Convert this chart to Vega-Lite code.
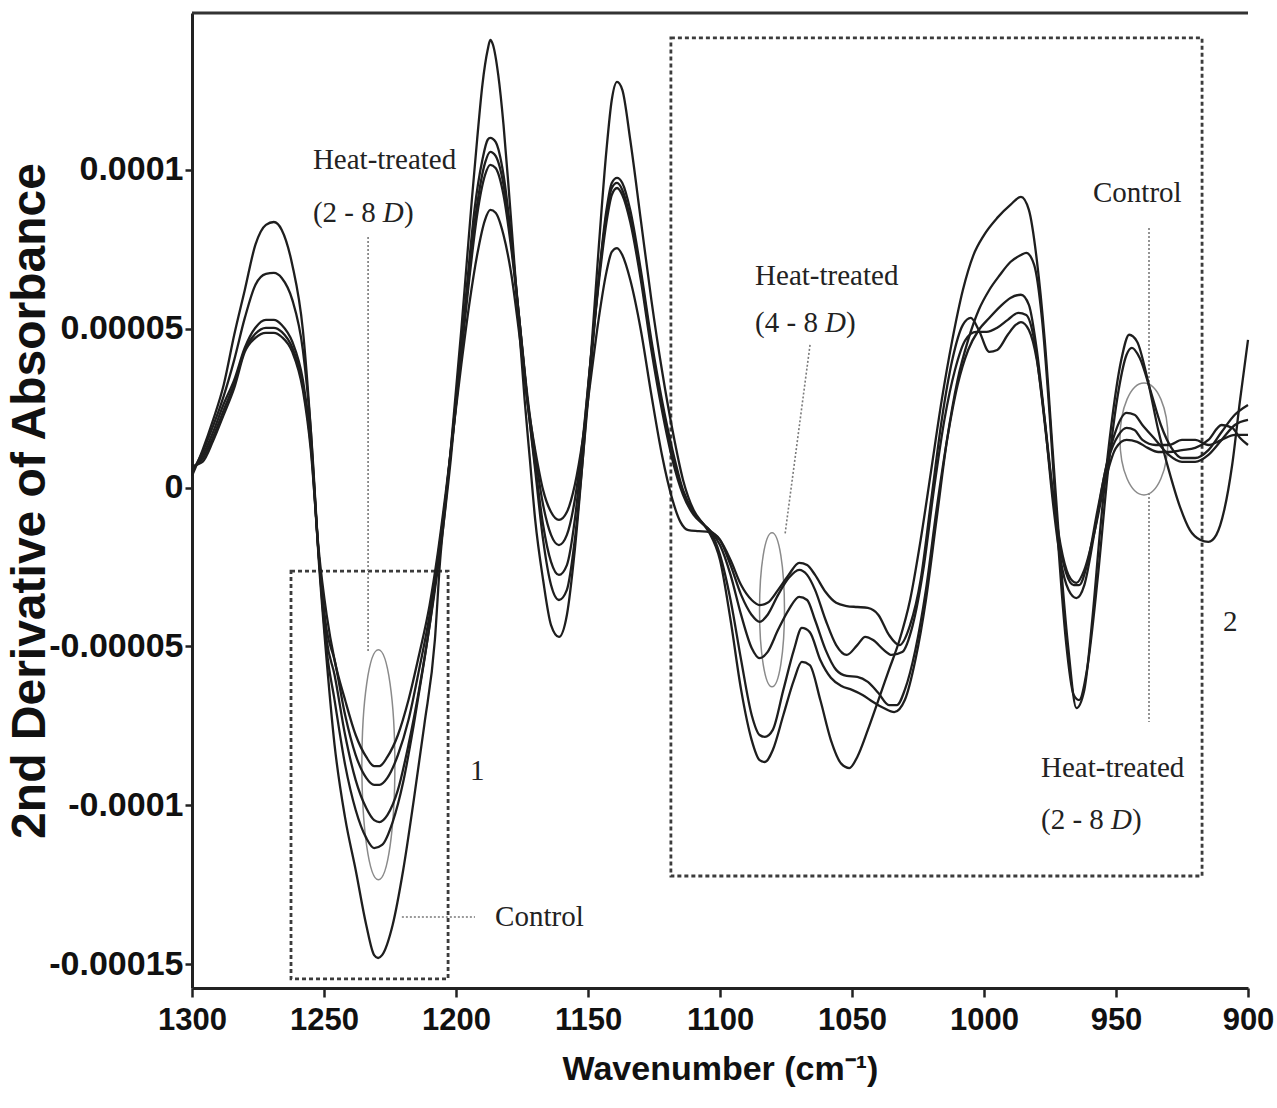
{
"$schema": "https://vega.github.io/schema/vega-lite/v6.json",
"width": 1056,
"height": 975,
"autosize": {"type": "none"},
"padding": {"left": 192, "top": 13, "right": 29, "bottom": 120},
"background": "white",
"config": {"view": {"stroke": null}, "axis": {"grid": false}},
"datasets": {
"spec": [
{"s":"A","w":1300,"v":0.37e-5},{"s":"A","w":1296,"v":1.18e-5},{"s":"A","w":1292,"v":2.13e-5},{"s":"A","w":1288,"v":3.23e-5},{"s":"A","w":1284,"v":4.81e-5},{"s":"A","w":1280,"v":6.22e-5},{"s":"A","w":1276,"v":7.64e-5},{"s":"A","w":1272,"v":8.27e-5},{"s":"A","w":1269,"v":8.36e-5},{"s":"A","w":1266,"v":8.11e-5},{"s":"A","w":1262,"v":7.01e-5},{"s":"A","w":1258,"v":4.96e-5},{"s":"A","w":1255,"v":1.81e-5},{"s":"A","w":1252,"v":-2.28e-5},{"s":"A","w":1249,"v":-5.43e-5},{"s":"A","w":1246,"v":-8.10e-5},{"s":"A","w":1242,"v":-10.40e-5},{"s":"A","w":1238,"v":-12.04e-5},{"s":"A","w":1234,"v":-13.77e-5},{"s":"A","w":1231,"v":-14.72e-5},{"s":"A","w":1229.5,"v":-14.81e-5},{"s":"A","w":1228,"v":-14.72e-5},{"s":"A","w":1224,"v":-13.77e-5},{"s":"A","w":1220,"v":-12.04e-5},{"s":"A","w":1216,"v":-9.84e-5},{"s":"A","w":1212,"v":-7.47e-5},{"s":"A","w":1208,"v":-4.80e-5},{"s":"A","w":1206,"v":-2.28e-5},{"s":"A","w":1204,"v":-0.55e-5},{"s":"A","w":1202,"v":1.18e-5},{"s":"A","w":1200,"v":3.07e-5},{"s":"A","w":1198,"v":4.96e-5},{"s":"A","w":1196,"v":7.01e-5},{"s":"A","w":1194,"v":9.06e-5},{"s":"A","w":1192,"v":10.95e-5},{"s":"A","w":1190,"v":12.68e-5},{"s":"A","w":1188,"v":13.78e-5},{"s":"A","w":1187,"v":14.09e-5},{"s":"A","w":1186,"v":13.94e-5},{"s":"A","w":1184,"v":12.99e-5},{"s":"A","w":1182,"v":11.42e-5},{"s":"A","w":1180,"v":9.37e-5},{"s":"A","w":1178,"v":7.17e-5},{"s":"A","w":1176,"v":4.96e-5},{"s":"A","w":1174,"v":2.76e-5},{"s":"A","w":1172,"v":0.87e-5},{"s":"A","w":1170,"v":-1.02e-5},{"s":"A","w":1167,"v":-2.91e-5},{"s":"A","w":1164,"v":-4.33e-5},{"s":"A","w":1161,"v":-4.70e-5},{"s":"A","w":1158,"v":-4.01e-5},{"s":"A","w":1155,"v":-1.96e-5},{"s":"A","w":1152,"v":0.87e-5},{"s":"A","w":1149,"v":4.02e-5},{"s":"A","w":1146,"v":7.48e-5},{"s":"A","w":1143,"v":10.63e-5},{"s":"A","w":1141,"v":12.20e-5},{"s":"A","w":1139,"v":12.77e-5},{"s":"A","w":1137,"v":12.52e-5},{"s":"A","w":1134,"v":10.95e-5},{"s":"A","w":1130,"v":8.43e-5},{"s":"A","w":1126,"v":5.91e-5},{"s":"A","w":1122,"v":3.70e-5},{"s":"A","w":1118,"v":1.81e-5},{"s":"A","w":1114,"v":0.24e-5},{"s":"A","w":1110,"v":-0.71e-5},{"s":"A","w":1106,"v":-1.18e-5},{"s":"A","w":1104,"v":-1.43e-5},{"s":"A","w":1100,"v":-2.28e-5},{"s":"A","w":1096,"v":-4.17e-5},{"s":"A","w":1092,"v":-6.37e-5},{"s":"A","w":1088,"v":-7.95e-5},{"s":"A","w":1085,"v":-8.58e-5},{"s":"A","w":1083,"v":-8.64e-5},{"s":"A","w":1080,"v":-8.26e-5},{"s":"A","w":1076,"v":-7.16e-5},{"s":"A","w":1072,"v":-6.06e-5},{"s":"A","w":1069,"v":-5.49e-5},{"s":"A","w":1066,"v":-5.59e-5},{"s":"A","w":1062,"v":-6.69e-5},{"s":"A","w":1058,"v":-7.95e-5},{"s":"A","w":1054,"v":-8.70e-5},{"s":"A","w":1051,"v":-8.83e-5},{"s":"A","w":1048,"v":-8.48e-5},{"s":"A","w":1044,"v":-7.63e-5},{"s":"A","w":1040,"v":-6.69e-5},{"s":"A","w":1036,"v":-5.74e-5},{"s":"A","w":1032,"v":-4.80e-5},{"s":"A","w":1028,"v":-3.54e-5},{"s":"A","w":1024,"v":-1.65e-5},{"s":"A","w":1020,"v":0.55e-5},{"s":"A","w":1016,"v":2.76e-5},{"s":"A","w":1012,"v":4.65e-5},{"s":"A","w":1008,"v":6.22e-5},{"s":"A","w":1004,"v":7.32e-5},{"s":"A","w":1000,"v":7.95e-5},{"s":"A","w":995,"v":8.49e-5},{"s":"A","w":990,"v":8.90e-5},{"s":"A","w":986,"v":9.15e-5},{"s":"A","w":983,"v":8.74e-5},{"s":"A","w":980,"v":7.17e-5},{"s":"A","w":977,"v":4.65e-5},{"s":"A","w":974,"v":1.18e-5},{"s":"A","w":971,"v":-2.28e-5},{"s":"A","w":968,"v":-5.11e-5},{"s":"A","w":965,"v":-6.94e-5},{"s":"A","w":962,"v":-6.37e-5},{"s":"A","w":959,"v":-4.17e-5},{"s":"A","w":956,"v":-1.34e-5},{"s":"A","w":952,"v":1.81e-5},{"s":"A","w":948,"v":4.02e-5},{"s":"A","w":945,"v":4.81e-5},{"s":"A","w":942,"v":4.59e-5},{"s":"A","w":938,"v":3.39e-5},{"s":"A","w":934,"v":1.81e-5},{"s":"A","w":930,"v":0.55e-5},{"s":"A","w":926,"v":-0.55e-5},{"s":"A","w":922,"v":-1.34e-5},{"s":"A","w":918,"v":-1.65e-5},{"s":"A","w":915,"v":-1.71e-5},{"s":"A","w":912,"v":-1.49e-5},{"s":"A","w":909,"v":-0.71e-5},{"s":"A","w":906,"v":0.71e-5},{"s":"A","w":903,"v":2.76e-5},{"s":"A","w":900,"v":4.65e-5},
{"s":"B","w":1300,"v":0.49e-5},{"s":"B","w":1296,"v":1.12e-5},{"s":"B","w":1292,"v":1.94e-5},{"s":"B","w":1288,"v":2.88e-5},{"s":"B","w":1284,"v":4.02e-5},{"s":"B","w":1280,"v":5.34e-5},{"s":"B","w":1276,"v":6.38e-5},{"s":"B","w":1272,"v":6.73e-5},{"s":"B","w":1269,"v":6.76e-5},{"s":"B","w":1266,"v":6.60e-5},{"s":"B","w":1262,"v":5.91e-5},{"s":"B","w":1258,"v":4.33e-5},{"s":"B","w":1255,"v":1.81e-5},{"s":"B","w":1252,"v":-2.12e-5},{"s":"B","w":1249,"v":-5.11e-5},{"s":"B","w":1246,"v":-6.69e-5},{"s":"B","w":1242,"v":-8.73e-5},{"s":"B","w":1238,"v":-10.15e-5},{"s":"B","w":1234,"v":-11.03e-5},{"s":"B","w":1231,"v":-11.35e-5},{"s":"B","w":1228,"v":-11.25e-5},{"s":"B","w":1224,"v":-10.53e-5},{"s":"B","w":1220,"v":-9.27e-5},{"s":"B","w":1216,"v":-7.47e-5},{"s":"B","w":1212,"v":-5.43e-5},{"s":"B","w":1208,"v":-3.22e-5},{"s":"B","w":1205,"v":-1.34e-5},{"s":"B","w":1202,"v":0.87e-5},{"s":"B","w":1199,"v":3.55e-5},{"s":"B","w":1196,"v":6.22e-5},{"s":"B","w":1193,"v":8.74e-5},{"s":"B","w":1190,"v":10.32e-5},{"s":"B","w":1188,"v":10.95e-5},{"s":"B","w":1187,"v":11.01e-5},{"s":"B","w":1185,"v":10.88e-5},{"s":"B","w":1182,"v":9.84e-5},{"s":"B","w":1179,"v":7.80e-5},{"s":"B","w":1176,"v":5.28e-5},{"s":"B","w":1173,"v":2.76e-5},{"s":"B","w":1170,"v":0.55e-5},{"s":"B","w":1167,"v":-1.65e-5},{"s":"B","w":1164,"v":-3.07e-5},{"s":"B","w":1161,"v":-3.54e-5},{"s":"B","w":1158,"v":-3.22e-5},{"s":"B","w":1155,"v":-1.65e-5},{"s":"B","w":1152,"v":0.87e-5},{"s":"B","w":1149,"v":3.70e-5},{"s":"B","w":1146,"v":6.54e-5},{"s":"B","w":1143,"v":8.74e-5},{"s":"B","w":1141,"v":9.59e-5},{"s":"B","w":1139,"v":9.75e-5},{"s":"B","w":1137,"v":9.59e-5},{"s":"B","w":1134,"v":8.74e-5},{"s":"B","w":1130,"v":6.85e-5},{"s":"B","w":1126,"v":4.65e-5},{"s":"B","w":1122,"v":2.76e-5},{"s":"B","w":1118,"v":1.18e-5},{"s":"B","w":1114,"v":-0.08e-5},{"s":"B","w":1110,"v":-0.77e-5},{"s":"B","w":1106,"v":-1.18e-5},{"s":"B","w":1104,"v":-1.34e-5},{"s":"B","w":1100,"v":-2.12e-5},{"s":"B","w":1096,"v":-3.54e-5},{"s":"B","w":1092,"v":-5.43e-5},{"s":"B","w":1088,"v":-7.16e-5},{"s":"B","w":1085,"v":-7.79e-5},{"s":"B","w":1083,"v":-7.85e-5},{"s":"B","w":1080,"v":-7.63e-5},{"s":"B","w":1076,"v":-6.37e-5},{"s":"B","w":1072,"v":-5.11e-5},{"s":"B","w":1069,"v":-4.42e-5},{"s":"B","w":1066,"v":-4.55e-5},{"s":"B","w":1062,"v":-5.43e-5},{"s":"B","w":1058,"v":-5.99e-5},{"s":"B","w":1054,"v":-6.25e-5},{"s":"B","w":1050,"v":-6.37e-5},{"s":"B","w":1046,"v":-6.53e-5},{"s":"B","w":1042,"v":-6.75e-5},{"s":"B","w":1038,"v":-6.94e-5},{"s":"B","w":1034,"v":-7.07e-5},{"s":"B","w":1030,"v":-6.69e-5},{"s":"B","w":1026,"v":-5.43e-5},{"s":"B","w":1022,"v":-3.54e-5},{"s":"B","w":1018,"v":-1.02e-5},{"s":"B","w":1014,"v":1.50e-5},{"s":"B","w":1010,"v":3.39e-5},{"s":"B","w":1006,"v":4.65e-5},{"s":"B","w":1002,"v":5.59e-5},{"s":"B","w":998,"v":6.22e-5},{"s":"B","w":994,"v":6.69e-5},{"s":"B","w":990,"v":7.10e-5},{"s":"B","w":986,"v":7.32e-5},{"s":"B","w":984,"v":7.39e-5},{"s":"B","w":981,"v":7.01e-5},{"s":"B","w":978,"v":5.28e-5},{"s":"B","w":975,"v":2.13e-5},{"s":"B","w":972,"v":-1.65e-5},{"s":"B","w":969,"v":-4.80e-5},{"s":"B","w":966,"v":-6.53e-5},{"s":"B","w":964,"v":-6.69e-5},{"s":"B","w":961,"v":-5.74e-5},{"s":"B","w":957,"v":-2.91e-5},{"s":"B","w":953,"v":0.55e-5},{"s":"B","w":949,"v":3.07e-5},{"s":"B","w":946,"v":4.18e-5},{"s":"B","w":944,"v":4.40e-5},{"s":"B","w":941,"v":4.08e-5},{"s":"B","w":937,"v":3.07e-5},{"s":"B","w":933,"v":1.97e-5},{"s":"B","w":929,"v":1.25e-5},{"s":"B","w":925,"v":0.93e-5},{"s":"B","w":920,"v":0.93e-5},{"s":"B","w":915,"v":1.18e-5},{"s":"B","w":910,"v":1.75e-5},{"s":"B","w":905,"v":2.29e-5},{"s":"B","w":900,"v":2.60e-5},
{"s":"C","w":1300,"v":0.55e-5},{"s":"C","w":1296,"v":1.00e-5},{"s":"C","w":1292,"v":1.75e-5},{"s":"C","w":1288,"v":2.63e-5},{"s":"C","w":1284,"v":3.39e-5},{"s":"C","w":1280,"v":4.40e-5},{"s":"C","w":1276,"v":5.03e-5},{"s":"C","w":1272,"v":5.28e-5},{"s":"C","w":1269,"v":5.28e-5},{"s":"C","w":1266,"v":5.12e-5},{"s":"C","w":1262,"v":4.59e-5},{"s":"C","w":1258,"v":3.39e-5},{"s":"C","w":1255,"v":1.50e-5},{"s":"C","w":1252,"v":-2.12e-5},{"s":"C","w":1249,"v":-4.80e-5},{"s":"C","w":1246,"v":-5.90e-5},{"s":"C","w":1242,"v":-7.79e-5},{"s":"C","w":1238,"v":-9.21e-5},{"s":"C","w":1234,"v":-10.09e-5},{"s":"C","w":1231,"v":-10.47e-5},{"s":"C","w":1229,"v":-10.53e-5},{"s":"C","w":1226,"v":-10.31e-5},{"s":"C","w":1222,"v":-9.52e-5},{"s":"C","w":1218,"v":-8.10e-5},{"s":"C","w":1214,"v":-6.37e-5},{"s":"C","w":1210,"v":-4.33e-5},{"s":"C","w":1207,"v":-2.44e-5},{"s":"C","w":1204,"v":-0.39e-5},{"s":"C","w":1201,"v":1.97e-5},{"s":"C","w":1198,"v":4.33e-5},{"s":"C","w":1195,"v":6.85e-5},{"s":"C","w":1192,"v":8.90e-5},{"s":"C","w":1189,"v":10.22e-5},{"s":"C","w":1187,"v":10.57e-5},{"s":"C","w":1185,"v":10.44e-5},{"s":"C","w":1182,"v":9.53e-5},{"s":"C","w":1179,"v":7.64e-5},{"s":"C","w":1176,"v":5.28e-5},{"s":"C","w":1173,"v":2.76e-5},{"s":"C","w":1170,"v":0.71e-5},{"s":"C","w":1167,"v":-1.18e-5},{"s":"C","w":1164,"v":-2.34e-5},{"s":"C","w":1161,"v":-2.75e-5},{"s":"C","w":1158,"v":-2.44e-5},{"s":"C","w":1155,"v":-1.02e-5},{"s":"C","w":1152,"v":1.34e-5},{"s":"C","w":1149,"v":4.02e-5},{"s":"C","w":1146,"v":6.54e-5},{"s":"C","w":1143,"v":8.58e-5},{"s":"C","w":1141,"v":9.43e-5},{"s":"C","w":1139,"v":9.59e-5},{"s":"C","w":1137,"v":9.37e-5},{"s":"C","w":1134,"v":8.49e-5},{"s":"C","w":1130,"v":6.69e-5},{"s":"C","w":1126,"v":4.49e-5},{"s":"C","w":1122,"v":2.60e-5},{"s":"C","w":1118,"v":1.03e-5},{"s":"C","w":1114,"v":-0.14e-5},{"s":"C","w":1110,"v":-0.80e-5},{"s":"C","w":1106,"v":-1.18e-5},{"s":"C","w":1104,"v":-1.34e-5},{"s":"C","w":1100,"v":-1.81e-5},{"s":"C","w":1096,"v":-2.75e-5},{"s":"C","w":1092,"v":-4.01e-5},{"s":"C","w":1088,"v":-5.05e-5},{"s":"C","w":1085,"v":-5.37e-5},{"s":"C","w":1082,"v":-5.18e-5},{"s":"C","w":1078,"v":-4.48e-5},{"s":"C","w":1074,"v":-3.85e-5},{"s":"C","w":1070,"v":-3.44e-5},{"s":"C","w":1067,"v":-3.54e-5},{"s":"C","w":1064,"v":-4.17e-5},{"s":"C","w":1060,"v":-5.11e-5},{"s":"C","w":1056,"v":-5.74e-5},{"s":"C","w":1052,"v":-5.93e-5},{"s":"C","w":1048,"v":-5.96e-5},{"s":"C","w":1044,"v":-6.12e-5},{"s":"C","w":1040,"v":-6.47e-5},{"s":"C","w":1036,"v":-6.85e-5},{"s":"C","w":1033,"v":-6.85e-5},{"s":"C","w":1030,"v":-6.37e-5},{"s":"C","w":1026,"v":-5.11e-5},{"s":"C","w":1022,"v":-3.22e-5},{"s":"C","w":1018,"v":-0.71e-5},{"s":"C","w":1014,"v":1.50e-5},{"s":"C","w":1010,"v":3.23e-5},{"s":"C","w":1006,"v":4.33e-5},{"s":"C","w":1002,"v":4.96e-5},{"s":"C","w":998,"v":5.34e-5},{"s":"C","w":994,"v":5.69e-5},{"s":"C","w":990,"v":5.97e-5},{"s":"C","w":986,"v":6.07e-5},{"s":"C","w":983,"v":5.75e-5},{"s":"C","w":980,"v":4.33e-5},{"s":"C","w":977,"v":2.13e-5},{"s":"C","w":974,"v":-0.39e-5},{"s":"C","w":971,"v":-2.28e-5},{"s":"C","w":968,"v":-3.22e-5},{"s":"C","w":965,"v":-3.48e-5},{"s":"C","w":962,"v":-3.07e-5},{"s":"C","w":958,"v":-1.34e-5},{"s":"C","w":954,"v":0.55e-5},{"s":"C","w":950,"v":1.81e-5},{"s":"C","w":946,"v":2.35e-5},{"s":"C","w":943,"v":2.29e-5},{"s":"C","w":940,"v":1.97e-5},{"s":"C","w":935,"v":1.50e-5},{"s":"C","w":930,"v":1.03e-5},{"s":"C","w":925,"v":0.81e-5},{"s":"C","w":920,"v":0.81e-5},{"s":"C","w":915,"v":1.03e-5},{"s":"C","w":910,"v":1.50e-5},{"s":"C","w":905,"v":1.97e-5},{"s":"C","w":900,"v":2.13e-5},
{"s":"D","w":1300,"v":0.62e-5},{"s":"D","w":1296,"v":0.90e-5},{"s":"D","w":1292,"v":1.59e-5},{"s":"D","w":1288,"v":2.44e-5},{"s":"D","w":1284,"v":3.26e-5},{"s":"D","w":1280,"v":4.33e-5},{"s":"D","w":1276,"v":4.84e-5},{"s":"D","w":1272,"v":5.03e-5},{"s":"D","w":1269,"v":5.03e-5},{"s":"D","w":1266,"v":4.90e-5},{"s":"D","w":1262,"v":4.40e-5},{"s":"D","w":1258,"v":3.23e-5},{"s":"D","w":1255,"v":1.34e-5},{"s":"D","w":1252,"v":-2.12e-5},{"s":"D","w":1249,"v":-4.48e-5},{"s":"D","w":1246,"v":-5.43e-5},{"s":"D","w":1242,"v":-7.16e-5},{"s":"D","w":1238,"v":-8.42e-5},{"s":"D","w":1234,"v":-9.14e-5},{"s":"D","w":1231,"v":-9.36e-5},{"s":"D","w":1229,"v":-9.36e-5},{"s":"D","w":1226,"v":-9.14e-5},{"s":"D","w":1222,"v":-8.42e-5},{"s":"D","w":1218,"v":-7.32e-5},{"s":"D","w":1214,"v":-5.74e-5},{"s":"D","w":1210,"v":-4.01e-5},{"s":"D","w":1207,"v":-2.28e-5},{"s":"D","w":1204,"v":-0.39e-5},{"s":"D","w":1201,"v":1.81e-5},{"s":"D","w":1198,"v":4.18e-5},{"s":"D","w":1195,"v":6.54e-5},{"s":"D","w":1192,"v":8.58e-5},{"s":"D","w":1189,"v":9.84e-5},{"s":"D","w":1187,"v":10.16e-5},{"s":"D","w":1185,"v":10.06e-5},{"s":"D","w":1182,"v":9.21e-5},{"s":"D","w":1179,"v":7.48e-5},{"s":"D","w":1176,"v":5.28e-5},{"s":"D","w":1173,"v":2.92e-5},{"s":"D","w":1170,"v":1.03e-5},{"s":"D","w":1167,"v":-0.55e-5},{"s":"D","w":1164,"v":-1.49e-5},{"s":"D","w":1161,"v":-1.81e-5},{"s":"D","w":1158,"v":-1.49e-5},{"s":"D","w":1155,"v":-0.39e-5},{"s":"D","w":1152,"v":1.50e-5},{"s":"D","w":1149,"v":4.02e-5},{"s":"D","w":1146,"v":6.38e-5},{"s":"D","w":1143,"v":8.36e-5},{"s":"D","w":1141,"v":9.21e-5},{"s":"D","w":1139,"v":9.43e-5},{"s":"D","w":1137,"v":9.21e-5},{"s":"D","w":1134,"v":8.36e-5},{"s":"D","w":1130,"v":6.54e-5},{"s":"D","w":1126,"v":4.33e-5},{"s":"D","w":1122,"v":2.44e-5},{"s":"D","w":1118,"v":0.87e-5},{"s":"D","w":1114,"v":-0.23e-5},{"s":"D","w":1110,"v":-0.86e-5},{"s":"D","w":1106,"v":-1.18e-5},{"s":"D","w":1104,"v":-1.34e-5},{"s":"D","w":1100,"v":-1.65e-5},{"s":"D","w":1096,"v":-2.44e-5},{"s":"D","w":1092,"v":-3.38e-5},{"s":"D","w":1088,"v":-4.01e-5},{"s":"D","w":1085,"v":-4.23e-5},{"s":"D","w":1082,"v":-4.01e-5},{"s":"D","w":1078,"v":-3.38e-5},{"s":"D","w":1074,"v":-2.85e-5},{"s":"D","w":1070,"v":-2.59e-5},{"s":"D","w":1067,"v":-2.75e-5},{"s":"D","w":1064,"v":-3.22e-5},{"s":"D","w":1060,"v":-4.17e-5},{"s":"D","w":1056,"v":-4.96e-5},{"s":"D","w":1052,"v":-5.27e-5},{"s":"D","w":1048,"v":-4.96e-5},{"s":"D","w":1045,"v":-4.70e-5},{"s":"D","w":1042,"v":-4.80e-5},{"s":"D","w":1038,"v":-5.11e-5},{"s":"D","w":1035,"v":-5.27e-5},{"s":"D","w":1031,"v":-5.18e-5},{"s":"D","w":1027,"v":-4.33e-5},{"s":"D","w":1023,"v":-2.59e-5},{"s":"D","w":1019,"v":-0.08e-5},{"s":"D","w":1015,"v":2.13e-5},{"s":"D","w":1011,"v":3.70e-5},{"s":"D","w":1007,"v":4.65e-5},{"s":"D","w":1003,"v":4.90e-5},{"s":"D","w":999,"v":4.90e-5},{"s":"D","w":995,"v":5.03e-5},{"s":"D","w":991,"v":5.28e-5},{"s":"D","w":987,"v":5.50e-5},{"s":"D","w":984,"v":5.43e-5},{"s":"D","w":981,"v":4.65e-5},{"s":"D","w":978,"v":2.76e-5},{"s":"D","w":975,"v":0.55e-5},{"s":"D","w":972,"v":-1.49e-5},{"s":"D","w":969,"v":-2.66e-5},{"s":"D","w":966,"v":-3.07e-5},{"s":"D","w":964,"v":-3.07e-5},{"s":"D","w":961,"v":-2.44e-5},{"s":"D","w":957,"v":-0.71e-5},{"s":"D","w":953,"v":0.87e-5},{"s":"D","w":949,"v":1.66e-5},{"s":"D","w":946,"v":1.88e-5},{"s":"D","w":943,"v":1.81e-5},{"s":"D","w":940,"v":1.50e-5},{"s":"D","w":935,"v":1.34e-5},{"s":"D","w":930,"v":1.34e-5},{"s":"D","w":925,"v":1.50e-5},{"s":"D","w":920,"v":1.50e-5},{"s":"D","w":915,"v":1.34e-5},{"s":"D","w":910,"v":1.50e-5},{"s":"D","w":905,"v":1.66e-5},{"s":"D","w":900,"v":1.66e-5},
{"s":"E","w":1300,"v":0.68e-5},{"s":"E","w":1296,"v":0.81e-5},{"s":"E","w":1292,"v":1.47e-5},{"s":"E","w":1288,"v":2.29e-5},{"s":"E","w":1284,"v":3.14e-5},{"s":"E","w":1280,"v":4.27e-5},{"s":"E","w":1276,"v":4.71e-5},{"s":"E","w":1272,"v":4.87e-5},{"s":"E","w":1269,"v":4.87e-5},{"s":"E","w":1266,"v":4.74e-5},{"s":"E","w":1262,"v":4.27e-5},{"s":"E","w":1258,"v":3.07e-5},{"s":"E","w":1255,"v":1.18e-5},{"s":"E","w":1252,"v":-1.96e-5},{"s":"E","w":1249,"v":-4.01e-5},{"s":"E","w":1246,"v":-5.43e-5},{"s":"E","w":1242,"v":-6.69e-5},{"s":"E","w":1238,"v":-7.79e-5},{"s":"E","w":1234,"v":-8.48e-5},{"s":"E","w":1231,"v":-8.77e-5},{"s":"E","w":1229,"v":-8.77e-5},{"s":"E","w":1226,"v":-8.48e-5},{"s":"E","w":1222,"v":-7.79e-5},{"s":"E","w":1218,"v":-6.69e-5},{"s":"E","w":1214,"v":-5.27e-5},{"s":"E","w":1210,"v":-3.70e-5},{"s":"E","w":1207,"v":-2.12e-5},{"s":"E","w":1204,"v":-0.23e-5},{"s":"E","w":1201,"v":1.81e-5},{"s":"E","w":1198,"v":3.86e-5},{"s":"E","w":1195,"v":5.75e-5},{"s":"E","w":1192,"v":7.32e-5},{"s":"E","w":1189,"v":8.43e-5},{"s":"E","w":1187,"v":8.74e-5},{"s":"E","w":1185,"v":8.65e-5},{"s":"E","w":1182,"v":7.95e-5},{"s":"E","w":1179,"v":6.69e-5},{"s":"E","w":1176,"v":4.81e-5},{"s":"E","w":1173,"v":2.76e-5},{"s":"E","w":1170,"v":1.18e-5},{"s":"E","w":1167,"v":-0.08e-5},{"s":"E","w":1164,"v":-0.77e-5},{"s":"E","w":1161,"v":-1.02e-5},{"s":"E","w":1158,"v":-0.77e-5},{"s":"E","w":1155,"v":0.08e-5},{"s":"E","w":1152,"v":1.50e-5},{"s":"E","w":1149,"v":3.39e-5},{"s":"E","w":1146,"v":5.28e-5},{"s":"E","w":1143,"v":6.79e-5},{"s":"E","w":1141,"v":7.42e-5},{"s":"E","w":1139,"v":7.54e-5},{"s":"E","w":1137,"v":7.32e-5},{"s":"E","w":1134,"v":6.54e-5},{"s":"E","w":1130,"v":4.96e-5},{"s":"E","w":1126,"v":2.92e-5},{"s":"E","w":1122,"v":1.03e-5},{"s":"E","w":1118,"v":-0.39e-5},{"s":"E","w":1115,"v":-1.08e-5},{"s":"E","w":1112,"v":-1.34e-5},{"s":"E","w":1108,"v":-1.37e-5},{"s":"E","w":1104,"v":-1.40e-5},{"s":"E","w":1100,"v":-1.65e-5},{"s":"E","w":1096,"v":-2.28e-5},{"s":"E","w":1092,"v":-3.07e-5},{"s":"E","w":1088,"v":-3.54e-5},{"s":"E","w":1085,"v":-3.70e-5},{"s":"E","w":1082,"v":-3.63e-5},{"s":"E","w":1078,"v":-3.22e-5},{"s":"E","w":1074,"v":-2.75e-5},{"s":"E","w":1070,"v":-2.37e-5},{"s":"E","w":1067,"v":-2.44e-5},{"s":"E","w":1064,"v":-2.75e-5},{"s":"E","w":1060,"v":-3.29e-5},{"s":"E","w":1056,"v":-3.63e-5},{"s":"E","w":1052,"v":-3.73e-5},{"s":"E","w":1048,"v":-3.76e-5},{"s":"E","w":1044,"v":-3.79e-5},{"s":"E","w":1040,"v":-4.01e-5},{"s":"E","w":1036,"v":-4.64e-5},{"s":"E","w":1032,"v":-4.96e-5},{"s":"E","w":1028,"v":-4.33e-5},{"s":"E","w":1024,"v":-2.91e-5},{"s":"E","w":1020,"v":-0.39e-5},{"s":"E","w":1016,"v":2.13e-5},{"s":"E","w":1012,"v":4.02e-5},{"s":"E","w":1008,"v":5.12e-5},{"s":"E","w":1005,"v":5.34e-5},{"s":"E","w":1002,"v":4.96e-5},{"s":"E","w":998,"v":4.27e-5},{"s":"E","w":995,"v":4.33e-5},{"s":"E","w":991,"v":4.81e-5},{"s":"E","w":988,"v":5.12e-5},{"s":"E","w":986,"v":5.21e-5},{"s":"E","w":983,"v":4.96e-5},{"s":"E","w":980,"v":4.02e-5},{"s":"E","w":977,"v":2.13e-5},{"s":"E","w":974,"v":-0.08e-5},{"s":"E","w":971,"v":-1.81e-5},{"s":"E","w":968,"v":-2.75e-5},{"s":"E","w":965,"v":-3.00e-5},{"s":"E","w":962,"v":-2.59e-5},{"s":"E","w":958,"v":-1.34e-5},{"s":"E","w":954,"v":0.24e-5},{"s":"E","w":950,"v":1.25e-5},{"s":"E","w":946,"v":1.50e-5},{"s":"E","w":942,"v":1.44e-5},{"s":"E","w":938,"v":1.25e-5},{"s":"E","w":934,"v":1.12e-5},{"s":"E","w":930,"v":1.12e-5},{"s":"E","w":925,"v":1.18e-5},{"s":"E","w":920,"v":1.25e-5},{"s":"E","w":915,"v":1.50e-5},{"s":"E","w":910,"v":1.97e-5},{"s":"E","w":906,"v":1.88e-5},{"s":"E","w":903,"v":1.56e-5},{"s":"E","w":900,"v":1.34e-5}
],
"boxes": [
{"w":1262.5,"w2":1203.0,"v":-2.63e-5,"v2":-15.47e-5},
{"w":1118.6,"w2":917.4,"v":14.157e-5,"v2":-12.229e-5}
],
"leaders": [
{"w":1233.3,"w2":1233.3,"v":7.89e-5,"v2":-5.18e-5},
{"w":1220.5,"w2":1192.8,"v":-13.52e-5,"v2":-13.52e-5},
{"w":1065.9,"w2":1075.4,"v":4.49e-5,"v2":-1.49e-5},
{"w":937.5,"w2":937.5,"v":8.17e-5,"v2":3.29e-5},
{"w":937.5,"w2":937.5,"v":-0.17e-5,"v2":-7.38e-5}
],
"labels": [
{"t":"Heat-treated","w":1254.2,"v":10.31e-5},
{"t":"(2 - 8","w":1254.2,"v":8.65e-5},
{"t":")","w":1219.7,"v":8.65e-5},
{"t":"1","w":1194.7,"v":-8.92e-5},
{"t":"Control","w":1185.2,"v":-13.52e-5},
{"t":"Heat-treated","w":1086.7,"v":6.66e-5},
{"t":"(4 - 8","w":1086.7,"v":5.18e-5},
{"t":")","w":1052.3,"v":5.18e-5},
{"t":"Control","w":958.7,"v":9.28e-5},
{"t":"Heat-treated","w":978.4,"v":-8.83e-5},
{"t":"(2 - 8","w":978.4,"v":-10.47e-5},
{"t":")","w":943.9,"v":-10.47e-5},
{"t":"2","w":909.5,"v":-4.23e-5}
],
"italics": [
{"t":"D","w":1227.7,"v":8.65e-5},
{"t":"D","w":1060.2,"v":5.18e-5},
{"t":"D","w":951.9,"v":-10.47e-5}
]
},
"encoding": {
"x": {"field": "w", "type": "quantitative",
 "scale": {"domain": [900, 1300], "reverse": true, "nice": false, "zero": false},
 "axis": {"title": "Wavenumber (cm⁻¹)", "values": [1300,1250,1200,1150,1100,1050,1000,950,900], "format": "d",
  "labelFont": "Liberation Sans", "labelFontSize": 31, "labelFontWeight": "bold", "labelColor": "#111",
  "labelPadding": 8, "labelOverlap": false, "labelFlush": false, "labelBound": false,
  "tickSize": 9, "tickWidth": 2.5, "tickColor": "#222", "domainColor": "#222", "domainWidth": 3,
  "titleFont": "Liberation Sans", "titleFontSize": 34, "titleFontWeight": "bold", "titleColor": "#111", "titlePadding": 17, "grid": false}},
"y": {"field": "v", "type": "quantitative",
 "scale": {"domain": [-0.00015755, 0.0001494], "nice": false, "zero": false},
 "axis": {"title": "2nd Derivative of Absorbance", "values": [-0.00015,-0.0001,-0.00005,0,0.00005,0.0001],
  "labelExpr": "replace(format(datum.value, '.5~f'), '−', '-')",
  "labelFont": "Liberation Sans", "labelFontSize": 34, "labelFontWeight": "bold", "labelColor": "#111",
  "labelPadding": 2, "labelOverlap": false, "labelBound": false,
  "tickSize": 7, "tickWidth": 2.5, "tickColor": "#222", "domainColor": "#222", "domainWidth": 3,
  "titleFont": "Liberation Sans", "titleFontSize": 48, "titleFontWeight": "bold", "titleColor": "#111", "titlePadding": -6, "grid": false}}
},
"layer": [
{"data": {"name": "boxes"}, "mark": {"type": "rect", "filled": false, "color": "#3c3c3c", "strokeWidth": 2.8, "strokeDash": [4, 3]},
 "encoding": {"x2": {"field": "w2"}, "y2": {"field": "v2"}}},
{"data": {"name": "leaders"}, "mark": {"type": "rule", "color": "#7a7a7a", "strokeWidth": 1.6, "strokeDash": [2, 2]},
 "encoding": {"x2": {"field": "w2"}, "y2": {"field": "v2"}}},
{"data": {"values": [{"w": 1229.4, "v": -8.73e-5}]},
 "mark": {"type": "point", "shape": "M0,-1C0.0793,-1,0.1435,-0.5523,0.1435,0C0.1435,0.5523,0.0793,1,0,1C-0.0793,1,-0.1435,0.5523,-0.1435,0C-0.1435,-0.5523,-0.0793,-1,0,-1Z", "size": 52900, "filled": false, "color": "#8a8a8a", "strokeWidth": 1.5, "opacity": 1}},
{"data": {"values": [{"w": 1080.3, "v": -3.85e-5}]},
 "mark": {"type": "point", "shape": "M0,-1C0.0895,-1,0.162,-0.5523,0.162,0C0.162,0.5523,0.0895,1,0,1C-0.0895,1,-0.162,0.5523,-0.162,0C-0.162,-0.5523,-0.0895,-1,0,-1Z", "size": 23716, "filled": false, "color": "#8a8a8a", "strokeWidth": 1.5, "opacity": 1}},
{"data": {"values": [{"w": 939.4, "v": 1.53e-5}]},
 "mark": {"type": "point", "shape": "M0,-1C0.2367,-1,0.4286,-0.5523,0.4286,0C0.4286,0.5523,0.2367,1,0,1C-0.2367,1,-0.4286,0.5523,-0.4286,0C-0.4286,-0.5523,-0.2367,-1,0,-1Z", "size": 12544, "filled": false, "color": "#8a8a8a", "strokeWidth": 1.5, "opacity": 1}},
{"data": {"name": "spec"}, "mark": {"type": "line", "interpolate": "monotone", "color": "#1e1e1e", "strokeWidth": 2.3},
 "encoding": {"detail": {"field": "s", "type": "nominal"}}},
{"data": {"values": [{"w": 1300, "w2": 900, "v": 0.0001494}]}, "mark": {"type": "rule", "color": "#333333", "strokeWidth": 3},
 "encoding": {"x2": {"field": "w2"}}},
{"data": {"name": "labels"}, "mark": {"type": "text", "align": "left", "baseline": "middle", "font": "Liberation Serif", "fontSize": 29, "color": "#222222"},
 "encoding": {"text": {"field": "t", "type": "nominal"}}},
{"data": {"name": "italics"}, "mark": {"type": "text", "align": "left", "baseline": "middle", "font": "Liberation Serif", "fontSize": 29, "fontStyle": "italic", "color": "#222222"},
 "encoding": {"text": {"field": "t", "type": "nominal"}}}
]
}
